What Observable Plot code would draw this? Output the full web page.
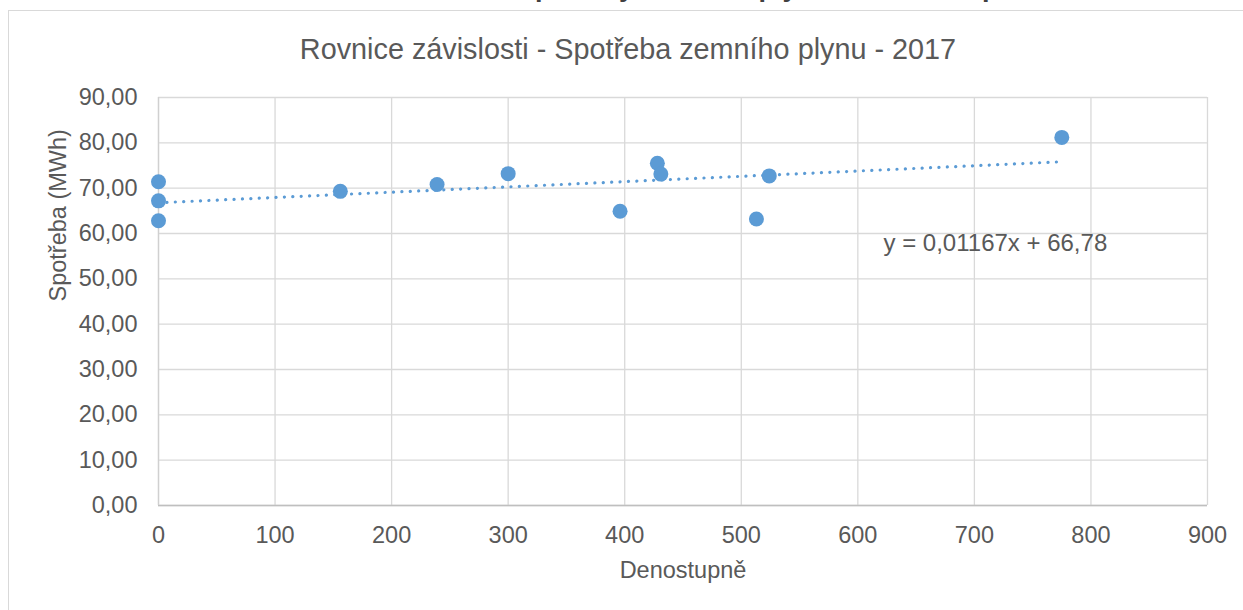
<!DOCTYPE html>
<html>
<head>
<meta charset="utf-8">
<script src="https://cdn.jsdelivr.net/npm/d3@7"></script>
<script src="https://cdn.jsdelivr.net/npm/@observablehq/plot@0.6"></script>
<style>
  html, body { margin: 0; padding: 0; background: #fff; }
  #wrap { position: relative; width: 1243px; height: 610px; overflow: hidden; background: #fff;
          font-family: "Liberation Sans", Arial, sans-serif; }
  #frame { position: absolute; left: 8px; top: 10px; width: 1300px; height: 700px;
           border: 1px solid #d9d9d9; box-sizing: border-box; }
  #sheetTitle { position: absolute; top: -26px; white-space: nowrap; font-weight: bold;
                font-size: 27px; line-height: 27px; color: #404040; }
  #title { position: absolute; left: 0; width: 1256px; top: 35px; text-align: center;
           font-size: 28.8px; line-height: 28.8px; color: #595959; white-space: nowrap; }
  #chart { position: absolute; left: 0; top: 0; }
</style>
</head>
<body>
<div id="wrap">
  <div id="frame"></div>
  <div id="sheetTitle"></div>
  <div id="title"></div>
  <div id="chart"></div>
</div>
<script>
// ---- data ----
const sheetTitle = "Závislost spotřeby zemního plynu na denostupních";
const chartTitle = "Rovnice závislosti - Spotřeba zemního plynu - 2017";
const xLabel = "Denostupně";
const yLabel = "Spotřeba (MWh)";
const denostupne = [0, 0, 0, 156, 239, 300, 396, 428, 431, 513, 524, 775];
const spotreba   = [71.4, 67.2, 62.8, 69.3, 70.8, 73.2, 64.9, 75.5, 73.1, 63.2, 72.7, 81.2];
const xTicks = [0, 100, 200, 300, 400, 500, 600, 700, 800, 900];
const yTicks = [0, 10, 20, 30, 40, 50, 60, 70, 80, 90];
const trendSlope = 0.01167;
const trendIntercept = 66.78;
const equationLabel = "y = 0,01167x + 66,78";

// ---- build ----
const points = denostupne.map((x, i) => ({x, y: spotreba[i]}));
const xMin = d3.min(denostupne), xMax = d3.max(denostupne);
const trend = [xMin, xMax].map(x => ({x, y: trendSlope * x + trendIntercept}));

const blue = "#5b9bd5";
const grey = "#595959";
const fmtY = d => d3.format(".2f")(d).replace(".", ",");

document.getElementById("title").textContent = chartTitle;

// partially visible heading of the sheet above the chart (cut off at the top, as in the reference)
(function () {
  const el = document.getElementById("sheetTitle");
  el.textContent = sheetTitle;
  const ctx = document.createElement("canvas").getContext("2d");
  ctx.font = "bold 27px 'Liberation Sans', Arial, sans-serif";
  const pre = ctx.measureText("Závislost s").width;
  el.style.left = (535 - pre) + "px";
})();

const plot = Plot.plot({
  width: 1243,
  height: 610,
  marginLeft: 158,
  marginRight: 36,
  marginTop: 97,
  marginBottom: 105,
  style: {background: "transparent", fontFamily: "'Liberation Sans', Arial, sans-serif", fontSize: "23.5px", color: grey},
  x: {domain: [0, 900], ticks: xTicks},
  y: {domain: [0, 90], ticks: yTicks},
  marks: [
    Plot.gridX(xTicks, {stroke: "#d9d9d9", strokeOpacity: 1, strokeWidth: 1.3}),
    Plot.gridY(yTicks, {stroke: "#d9d9d9", strokeOpacity: 1, strokeWidth: 1.3}),
    Plot.ruleY([0], {stroke: "#bfbfbf", strokeWidth: 1.3}),
    Plot.ruleX([0], {stroke: "#d0d0d0", strokeWidth: 1.3}),
    Plot.axisX(xTicks, {tickSize: 0, tickPadding: 21, fill: grey, label: null}),
    Plot.axisY(yTicks, {tickSize: 0, tickPadding: 21, fill: grey, tickFormat: fmtY, label: null}),
    Plot.text([xLabel], {frameAnchor: "bottom", dy: 65, lineAnchor: "middle", fill: grey, fontSize: 23.5}),
    Plot.text([yLabel], {frameAnchor: "left", dx: -100.5, rotate: -90, lineAnchor: "middle", fill: grey, fontSize: 23.5}),
    Plot.line(trend, {x: "x", y: "y", stroke: blue, strokeWidth: 3.2, strokeDasharray: "0.1 8.3", strokeLinecap: "round"}),
    Plot.dot(points, {x: "x", y: "y", r: 7.5, fill: blue, stroke: "none"}),
    Plot.text([equationLabel], {frameAnchor: "top-left", dx: 725, dy: 146, textAnchor: "start", lineAnchor: "middle", fill: grey, fontSize: 24})
  ]
});
document.getElementById("chart").appendChild(plot);
</script>
</body>
</html>
